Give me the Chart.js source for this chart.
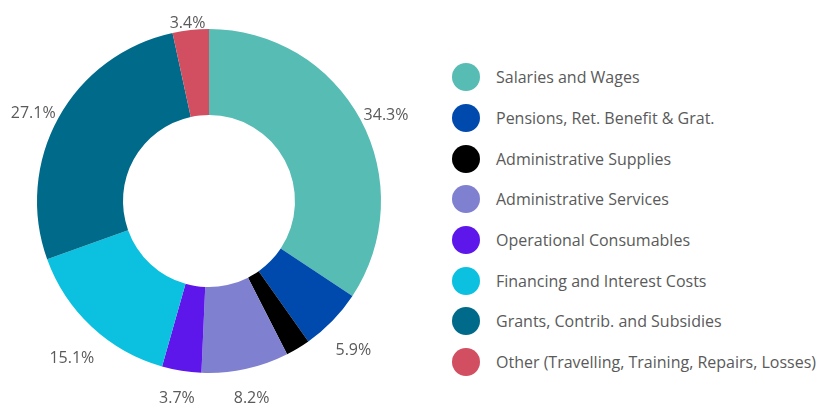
<!DOCTYPE html>
<html>
<head>
    <title>Expenditure Breakdown</title>
    <script src="https://cdn.jsdelivr.net/npm/chart.js"></script>
    <style>
        body {
            margin: 0;
            background: #fff;
            font-family: "Open Sans", sans-serif;
        }
        .wrap {
            position: relative;
            width: 817px;
            height: 405px;
        }
        #myChart {
            position: absolute;
            left: 0;
            top: 0;
        }
        .legend {
            position: absolute;
            left: 452px;
            top: 57px;
        }
        .legend-item {
            display: flex;
            align-items: center;
            height: 40.7px;
            font-size: 16px;
            color: #5a5a5a;
            white-space: nowrap;
        }
        .dot {
            width: 28px;
            height: 28px;
            border-radius: 50%;
            margin-right: 16px;
        }
    </style>
</head>
<body>
<div class="wrap">
    <canvas id="myChart" width="419" height="405"></canvas>
    <div class="legend" id="legend"></div>
</div>

<script>
    const categories = [
        "Salaries and Wages",
        "Pensions, Ret. Benefit & Grat.",
        "Administrative Supplies",
        "Administrative Services",
        "Operational Consumables",
        "Financing and Interest Costs",
        "Grants, Contrib. and Subsidies",
        "Other (Travelling, Training, Repairs, Losses)"
    ];
    const shares = [34.3, 5.9, 2.3, 8.2, 3.7, 15.1, 27.1, 3.4];
    const colors = ['#56bcb4', '#004aad', '#000000', '#8080d0', '#5e17eb', '#0cc0df', '#006a8a', '#d14f60'];

    // html legend
    const legendEl = document.getElementById('legend');
    categories.forEach((name, i) => {
        const row = document.createElement('div');
        row.className = 'legend-item';
        row.innerHTML = '<div class="dot" style="background:' + colors[i] + '"></div><span>' + name + '</span>';
        legendEl.appendChild(row);
    });

    // percent labels outside the ring, small slices skipped, kept inside the canvas
    const outsideLabels = {
        id: 'outsideLabels',
        afterDatasetsDraw(chart) {
            const ctx = chart.ctx;
            ctx.save();
            ctx.font = '16px "Open Sans"';
            ctx.textAlign = 'center';
            ctx.textBaseline = 'middle';
            ctx.fillStyle = '#5a5a5a';
            chart.getDatasetMeta(0).data.forEach((arc, i) => {
                const v = shares[i];
                if (v < 3) return;
                const mid = (arc.startAngle + arc.endAngle) / 2;
                const dist = arc.outerRadius + 29;
                const x = arc.x + Math.cos(mid) * dist;
                let y = arc.y + Math.sin(mid) * dist + 10;
                y = Math.min(Math.max(y, 23.5), chart.height - 7);
                ctx.fillText(v.toFixed(1) + '%', x, y);
            });
            ctx.restore();
        }
    };

    new Chart(document.getElementById('myChart'), {
        type: 'doughnut',
        data: {
            labels: categories,
            datasets: [{
                data: shares,
                backgroundColor: colors,
                borderWidth: 0
            }]
        },
        options: {
            responsive: false,
            animation: false,
            cutout: '50%',
            layout: {
                padding: { left: 37, right: 38, top: 29, bottom: 32 }
            },
            plugins: {
                legend: { display: false },
                tooltip: { enabled: false }
            }
        },
        plugins: [outsideLabels]
    });
</script>
</body>
</html>
